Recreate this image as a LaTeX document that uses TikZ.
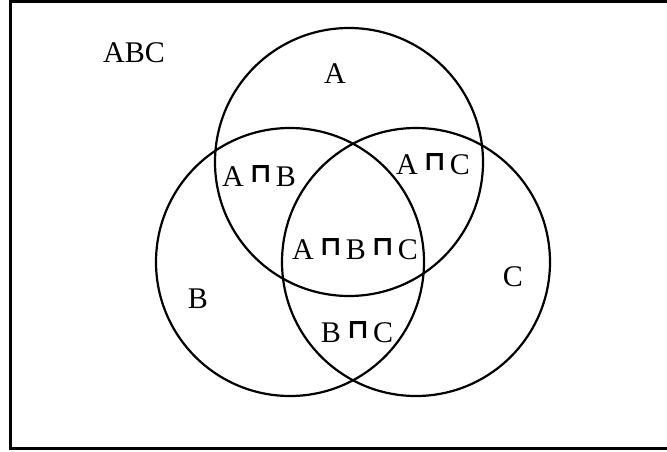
\documentclass[tikz,border=0pt]{standalone}
\usepackage{fontspec}
\usepackage{graphicx}
\setmainfont{Liberation Serif}
\newfontfamily\dvfont{DejaVu Sans}
\newcommand\sqcp{\raisebox{4pt}{\resizebox{22pt}{17pt}{\dvfont\bfseries ⊓}}}
\tikzset{
  setcircle/.style={draw=black, line width=2.2pt},
  lbl/.style={inner sep=0pt, font=\fontsize{30}{31}\selectfont},
}
\begin{document}
\begin{tikzpicture}[x=1pt,y=-1pt]
\useasboundingbox (0,0) rectangle (667,452);
\draw[line width=3pt] (10.5,2) rectangle (670,448);
\node[setcircle, circle, minimum size=268pt, inner sep=0pt] (cA) at (349,162) {};
\node[setcircle, circle, minimum size=268pt, inner sep=0pt] (cB) at (290,262) {};
\node[setcircle, circle, minimum size=268pt, inner sep=0pt] (cC) at (416,262) {};
\node[lbl] (tU) at (134,53) {ABC};
\node[lbl] (tA) at (335,74) {A};
\node[lbl] (tB) at (198,299) {B};
\node[lbl] (tC) at (513,277) {C};
\node[lbl] (tAB) at (259,176) {A\hspace{6pt}\sqcp\hspace{4pt}B};
\node[lbl] (tAC) at (433,164) {A\hspace{6pt}\sqcp\hspace{4pt}C};
\node[lbl] (tABC) at (355,249) {A\hspace{6pt}\sqcp\hspace{4pt}B\hspace{6pt}\sqcp\hspace{4pt}C};
\node[lbl] (tBC) at (357,332) {B\hspace{6pt}\sqcp\hspace{4pt}C};
\end{tikzpicture}
\end{document}
